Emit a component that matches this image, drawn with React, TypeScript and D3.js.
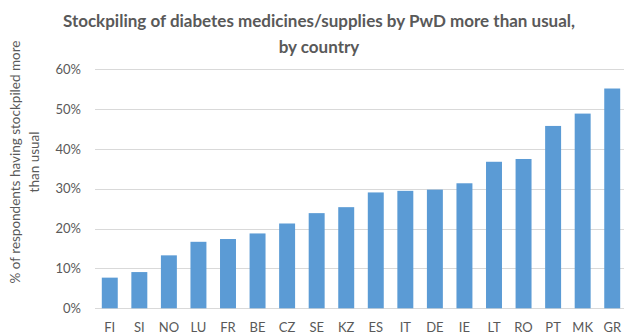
import { useEffect, useRef } from 'react';
import * as d3 from 'd3';

const countries = ['FI', 'SI', 'NO', 'LU', 'FR', 'BE', 'CZ', 'SE', 'KZ', 'ES', 'IT', 'DE', 'IE', 'LT', 'RO', 'PT', 'MK', 'GR'];
const stockpiled = [7.7, 9.1, 13.3, 16.7, 17.4, 18.8, 21.3, 23.9, 25.4, 29.1, 29.5, 29.8, 31.4, 36.8, 37.5, 45.8, 48.9, 55.2];
const yTicks = [0, 10, 20, 30, 40, 50, 60];
const titleLines = ['Stockpiling of diabetes medicines/supplies by PwD more than usual,', 'by country'];
const yLabelLines = ['% of respondents having stockpiled more', 'than usual'];

const W = 624;
const H = 335;
const FONT = 'Lato, "Open Sans", sans-serif';
const TEXT = '#595959';

export default function App() {
  const svgRef = useRef<SVGSVGElement | null>(null);

  useEffect(() => {
    if (!svgRef.current) return;
    const svg = d3.select(svgRef.current);
    svg.selectAll('*').remove();

    const x = d3.scaleBand<string>().domain(countries).range([95, 627]).paddingInner(0.46).paddingOuter(0.23);
    const y = d3.scaleLinear().domain([0, 60]).range([308.3, 69.4]);

    // gridlines
    svg
      .append('g')
      .selectAll('line')
      .data(yTicks)
      .join('line')
      .attr('x1', 95)
      .attr('x2', 627)
      .attr('y1', (d) => Math.round(y(d)) + 0.5)
      .attr('y2', (d) => Math.round(y(d)) + 0.5)
      .attr('stroke', '#d9d9d9')
      .attr('stroke-width', 1);

    // bars
    svg
      .append('g')
      .selectAll('rect')
      .data(stockpiled)
      .join('rect')
      .attr('x', (_, i) => x(countries[i]) as number)
      .attr('width', x.bandwidth())
      .attr('y', (d) => y(d))
      .attr('height', (d) => y(0) - y(d))
      .attr('fill', '#5b9bd5');

    // y tick labels
    svg
      .append('g')
      .selectAll('text')
      .data(yTicks)
      .join('text')
      .attr('x', 81)
      .attr('y', (d) => y(d))
      .attr('dy', '0.35em')
      .attr('text-anchor', 'end')
      .attr('font-family', FONT)
      .attr('font-size', 13)
      .attr('fill', TEXT)
      .text((d) => `${d}%`);

    // x labels
    svg
      .append('g')
      .selectAll('text')
      .data(countries)
      .join('text')
      .attr('x', (d) => (x(d) as number) + x.bandwidth() / 2)
      .attr('y', 327)
      .attr('dy', '0.35em')
      .attr('text-anchor', 'middle')
      .attr('font-family', FONT)
      .attr('font-size', 13)
      .attr('fill', TEXT)
      .text((d) => d);

    // title
    svg
      .append('g')
      .selectAll('text')
      .data(titleLines)
      .join('text')
      .attr('x', 319)
      .attr('y', (_, i) => 27 + i * 26)
      .attr('text-anchor', 'middle')
      .attr('font-family', FONT)
      .attr('font-weight', 'bold')
      .attr('font-size', 17)
      .attr('fill', TEXT)
      .text((d) => d);

    // y axis title
    svg
      .append('g')
      .attr('transform', 'translate(0,162) rotate(-90)')
      .selectAll('text')
      .data(yLabelLines)
      .join('text')
      .attr('x', 0)
      .attr('y', (_, i) => 20 + i * 19)
      .attr('text-anchor', 'middle')
      .attr('font-family', FONT)
      .attr('font-size', 13.5)
      .attr('fill', TEXT)
      .text((d) => d);
  }, []);

  return (
    <svg
      ref={svgRef}
      width={W}
      height={H}
      style={{ position: 'absolute', left: 0, top: 0, background: '#fff' }}
    />
  );
}
